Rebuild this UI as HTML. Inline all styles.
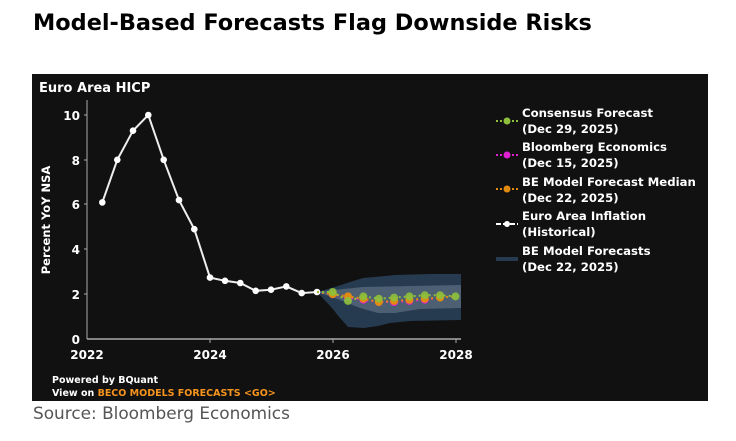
<!DOCTYPE html>
<html><head><meta charset="utf-8"><style>
body{margin:0;width:736px;height:437px;background:#fff;font-family:"DejaVu Sans",sans-serif;overflow:hidden}
</style></head><body>
<svg width="736" height="437" xmlns="http://www.w3.org/2000/svg" font-family="DejaVu Sans, sans-serif">
<text x="33" y="30" font-size="22.4" font-weight="bold" fill="#000">Model-Based Forecasts Flag Downside Risks</text>
<rect x="32" y="74" width="676" height="327" fill="#111"/>
<text x="39" y="92" font-size="13" font-weight="bold" fill="#fff">Euro Area HICP</text>
<polygon points="317,292 335,287 350,282 363,278 395,275 430,274 461,274 461,320 410,321 390,323 378,326 364,328 348,327 340,318 332,308" fill="#263a50"/>
<polygon points="317,292 333,290 363,287 410,286 461,285 461,308 420,309 395,313 378,313 360,308 340,300" fill="#4c5f73"/>
<line x1="87" y1="100" x2="87" y2="339" stroke="#aaa" stroke-width="1"/>
<line x1="87" y1="339" x2="461" y2="339" stroke="#aaa" stroke-width="1.5"/>
<g stroke="#aaa"><line x1="84" y1="115" x2="87" y2="115"/><line x1="84" y1="160" x2="87" y2="160"/><line x1="84" y1="204" x2="87" y2="204"/><line x1="84" y1="249" x2="87" y2="249"/><line x1="84" y1="294" x2="87" y2="294"/>
<line x1="210" y1="339" x2="210" y2="343"/><line x1="333" y1="339" x2="333" y2="343"/><line x1="456" y1="339" x2="456" y2="343"/></g>
<g font-size="12" font-weight="bold" fill="#fff" text-anchor="end">
<text x="80" y="120">10</text><text x="80" y="165">8</text><text x="80" y="209">6</text><text x="80" y="254">4</text><text x="80" y="299">2</text><text x="80" y="344">0</text></g>
<g font-size="12" font-weight="bold" fill="#fff" text-anchor="middle">
<text x="87" y="359">2022</text><text x="210" y="359">2024</text><text x="333" y="359">2026</text><text x="456" y="359">2028</text></g>
<text transform="translate(50,220) rotate(-90)" font-size="11.5" font-weight="bold" fill="#fff" text-anchor="middle">Percent YoY NSA</text>
<polyline fill="none" stroke="#eee" stroke-width="2" points="102.3,202.4 117.3,159.8 133,130.7 148.3,115 163.7,159.8 179,200.1 194.3,229.2 210,277.6 225,280.8 240.3,283 255.7,290.8 271,289.7 286.3,286.4 301.7,293.1 317,292"/>
<g fill="#fff"><circle cx="102.3" cy="202.4" r="3.3"/><circle cx="117.3" cy="159.8" r="3.3"/><circle cx="133" cy="130.7" r="3.3"/><circle cx="148.3" cy="115" r="3.3"/><circle cx="163.7" cy="159.8" r="3.3"/><circle cx="179" cy="200.1" r="3.3"/><circle cx="194.3" cy="229.2" r="3.3"/><circle cx="210" cy="277.6" r="3.3"/><circle cx="225" cy="280.8" r="3.3"/><circle cx="240.3" cy="283" r="3.3"/><circle cx="255.7" cy="290.8" r="3.3"/><circle cx="271" cy="289.7" r="3.3"/><circle cx="286.3" cy="286.4" r="3.3"/><circle cx="301.7" cy="293.1" r="3.3"/><circle cx="317" cy="292" r="3.3"/></g>
<polyline fill="none" stroke="#e020d0" stroke-width="2" stroke-dasharray="2,3" points="317,292 332.7,294.2 348,297.6 363.4,299.8 378.8,302 394.1,302 409.4,300.9 424.8,299.8 440.1,297.6"/>
<g fill="#e020d0"><circle cx="332.7" cy="294.2" r="4"/><circle cx="348" cy="297.6" r="4"/><circle cx="363.4" cy="299.8" r="4"/><circle cx="378.8" cy="302" r="4"/><circle cx="394.1" cy="302" r="4"/><circle cx="409.4" cy="300.9" r="4"/><circle cx="424.8" cy="299.8" r="4"/></g>
<polyline fill="none" stroke="#e08a10" stroke-width="2" stroke-dasharray="2,3" points="317,292 332.7,294.2 348,296.4 363.4,298.7 378.8,302 394.1,300.9 409.4,299.8 424.8,298.7 440.1,297.6 455.5,296.4"/>
<g fill="#e08a10"><circle cx="332.7" cy="294.2" r="4"/><circle cx="348" cy="296.4" r="4"/><circle cx="363.4" cy="298.7" r="4"/><circle cx="378.8" cy="302" r="4"/><circle cx="394.1" cy="300.9" r="4"/><circle cx="409.4" cy="299.8" r="4"/><circle cx="424.8" cy="298.7" r="4"/><circle cx="440.1" cy="297.6" r="4"/></g>
<polyline fill="none" stroke="#8ec03c" stroke-width="2" stroke-dasharray="2,3" points="317,292 332.7,292 348,300.9 363.4,296.4 378.8,298.7 394.1,297.6 409.4,296.4 424.8,295.3 440.1,295.3 455.5,296.4"/>
<g fill="#8ec03c" fill-opacity="0.9"><circle cx="332.7" cy="292" r="4"/><circle cx="348" cy="300.9" r="4"/><circle cx="363.4" cy="296.4" r="4"/><circle cx="378.8" cy="298.7" r="4"/><circle cx="394.1" cy="297.6" r="4"/><circle cx="409.4" cy="296.4" r="4"/><circle cx="424.8" cy="295.3" r="4"/><circle cx="440.1" cy="295.3" r="4"/><circle cx="455.5" cy="296.4" r="4"/></g>
<g stroke-width="2" stroke-dasharray="2,2">
<line x1="496" y1="121" x2="518" y2="121" stroke="#8ec03c"/><line x1="496" y1="155" x2="518" y2="155" stroke="#e020d0"/><line x1="496" y1="189" x2="518" y2="189" stroke="#e08a10"/></g>
<circle cx="507" cy="121" r="3.5" fill="#8ec03c"/><circle cx="507" cy="155" r="3.5" fill="#e020d0"/><circle cx="507" cy="189" r="3.5" fill="#e08a10"/>
<line x1="496" y1="224" x2="518" y2="224" stroke="#fff" stroke-width="2" stroke-dasharray="5,2"/><circle cx="507" cy="224" r="3" fill="#fff"/>
<rect x="496" y="257" width="22" height="4" fill="#263a50"/>
<g font-size="11.7" font-weight="bold" fill="#fff">
<text x="522" y="117">Consensus Forecast</text><text x="522" y="133">(Dec 29, 2025)</text>
<text x="522" y="151">Bloomberg Economics</text><text x="522" y="167">(Dec 15, 2025)</text>
<text x="522" y="186">BE Model Forecast Median</text><text x="522" y="202">(Dec 22, 2025)</text>
<text x="522" y="220">Euro Area Inflation</text><text x="522" y="236">(Historical)</text>
<text x="522" y="255">BE Model Forecasts</text><text x="522" y="271">(Dec 22, 2025)</text></g>
<g font-size="9.5" font-weight="bold" fill="#fff"><text x="52" y="383">Powered by BQuant</text>
<text x="52" y="396">View on <tspan fill="#f7941d">BECO MODELS FORECASTS &lt;GO&gt;</tspan></text></g>
<text x="33" y="419" font-size="16.9" fill="#555">Source: Bloomberg Economics</text>
</svg>
</body></html>
